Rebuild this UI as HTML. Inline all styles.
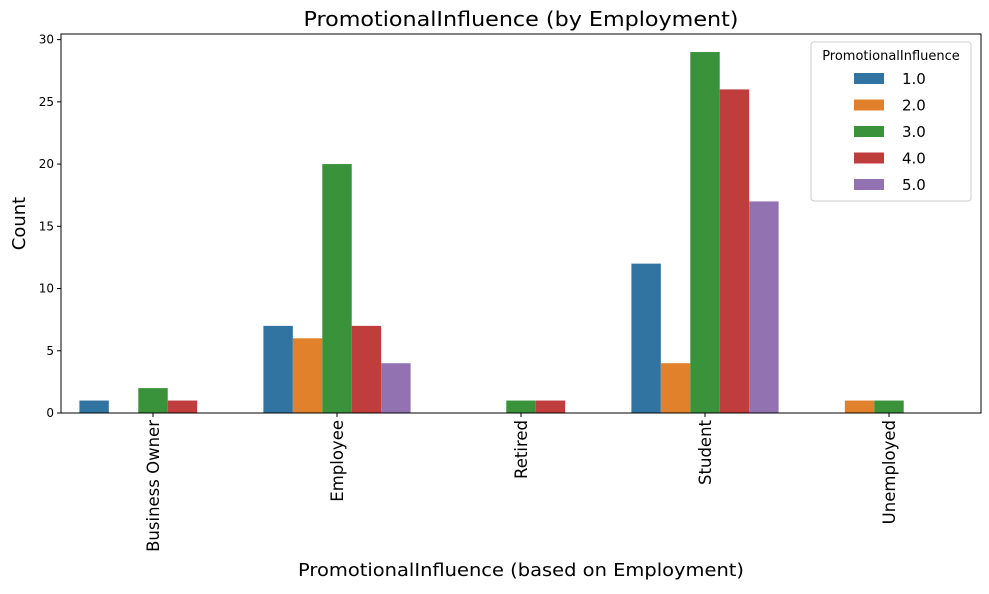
<!DOCTYPE html>
<html><head><meta charset="utf-8"><style>
body{margin:0;background:#fff;font-family:"DejaVu Sans","Liberation Sans",sans-serif;}
svg text{font-family:"DejaVu Sans","Liberation Sans",sans-serif;}
</style></head><body>
<svg id="chart" width="989" height="590" xmlns="http://www.w3.org/2000/svg"></svg>
<script>
const categories = ["Business Owner","Employee","Retired","Student","Unemployed"];
const seriesNames = ["1.0","2.0","3.0","4.0","5.0"];
const s1 = [1,7,0,12,0];
const s2 = [0,6,0,4,1];
const s3 = [2,20,1,29,1];
const s4 = [1,7,1,26,0];
const s5 = [0,4,0,17,0];
const yTicks = [0,5,10,15,20,25,30];
const series = [s1,s2,s3,s4,s5];
const colors = ["#3274a1","#e1812c","#3a923a","#c03d3e","#9372b2"];
const L=61,R=981,T=34,B=413, yMax=30.45;
const svg=document.getElementById('chart');
const NS="http://www.w3.org/2000/svg";
function y(v){return B-(v/yMax)*(B-T);}
const bandW=(R-L)/categories.length;
function xc(i){return L+bandW*(i+0.5);}
function mk(tag,attrs,parent){const e=document.createElementNS(NS,tag);for(const k in attrs)e.setAttribute(k,attrs[k]);(parent||svg).appendChild(e);return e;}
let t=mk('text',{x:521,y:26,'text-anchor':'middle','font-size':20,textLength:435,lengthAdjust:'spacingAndGlyphs'});t.textContent="PromotionalInfluence (by Employment)";


const bw=bandW*0.8/series.length;
series.forEach((s,si)=>{s.forEach((v,ci)=>{
 if(v<=0)return;
 const x0=xc(ci)-bandW*0.4+si*bw;
 const r=mk('rect',{x:x0,y:y(v),width:bw,height:B-y(v),fill:colors[si]});
 
 
});});
const f=mk('rect',{x:L,y:T,width:R-L,height:B-T,fill:'none',stroke:'#000','stroke-width':1});


yTicks.forEach(v=>{
 mk('line',{x1:L-4,x2:L,y1:y(v),y2:y(v),stroke:'#000'});
 const tx=mk('text',{x:L-7,y:y(v)+4,'text-anchor':'end','font-size':12});tx.textContent=v;
 
 
});
categories.forEach((c,i)=>{
 mk('line',{x1:xc(i),x2:xc(i),y1:B,y2:B+4,stroke:'#000'});
 const tx=mk('text',{x:0,y:0,'text-anchor':'end','font-size':16.5,transform:`translate(${xc(i)+6},${B+7}) rotate(-90)`});tx.textContent=c;
 
 
});
let yl=mk('text',{x:0,y:0,'text-anchor':'middle','font-size':18,transform:`translate(25,${(T+B)/2}) rotate(-90)`});yl.textContent="Count";


let xl=mk('text',{x:521,y:576,'text-anchor':'middle','font-size':17.5,textLength:446,lengthAdjust:'spacingAndGlyphs'});xl.textContent="PromotionalInfluence (based on Employment)";


const lg=mk('g',{});


mk('rect',{x:811,y:42,width:160,height:159,rx:3,fill:'#fff',stroke:'#ccc'},lg);
let lt=mk('text',{x:891,y:60,'text-anchor':'middle','font-size':13},lg);lt.textContent="PromotionalInfluence";
seriesNames.forEach((n,i)=>{
 const yy=79+i*26.5;
 mk('rect',{x:854,y:yy-6,width:30,height:11,fill:colors[i]},lg);
 const e=mk('text',{x:902,y:yy+5,'font-size':15},lg);e.textContent=n;
 
 
});
</script>
</body></html>
